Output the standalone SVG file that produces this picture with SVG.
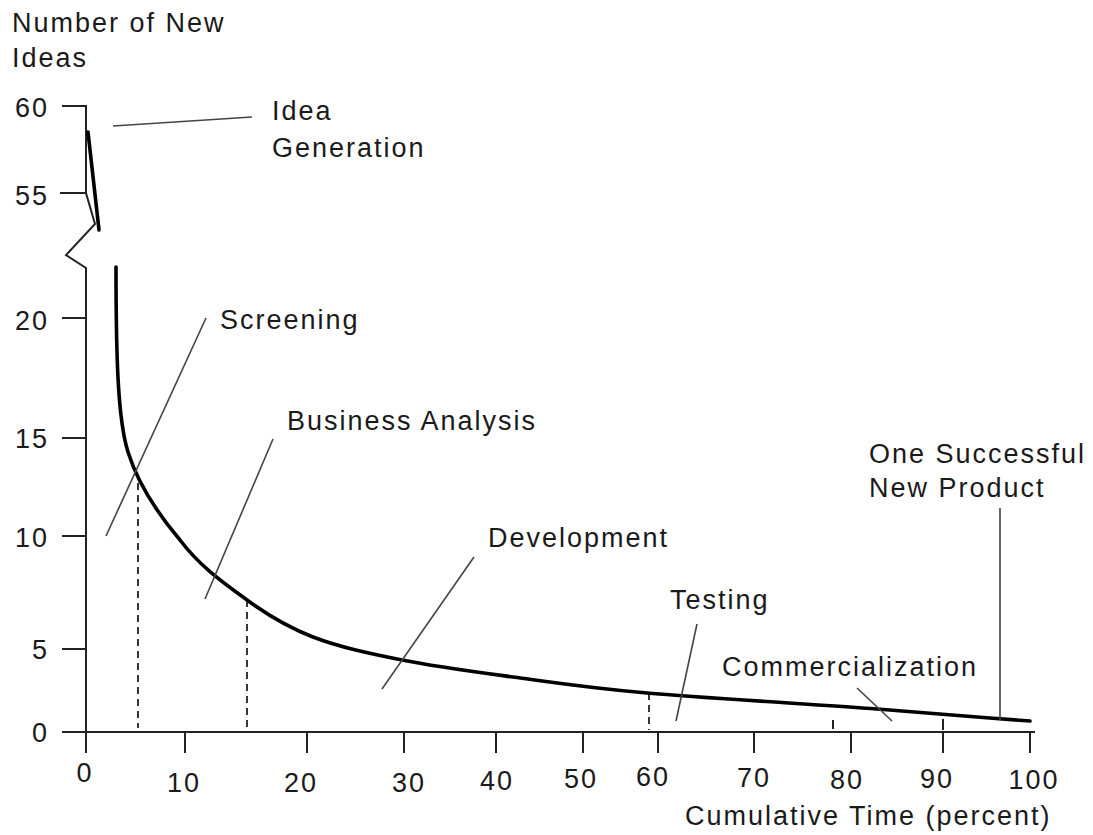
<svg xmlns="http://www.w3.org/2000/svg" width="1093" height="835" viewBox="0 0 1093 835">
<style>
text{font-family:"Liberation Sans",Arial,sans-serif;font-size:27px;fill:#1a1a1a;letter-spacing:2px}
.ax{fill:none;stroke:#222;stroke-width:2}
.ld{fill:none;stroke:#444;stroke-width:1.6}
.dash{fill:none;stroke:#222;stroke-width:1.8;stroke-dasharray:7,5}
.curve{fill:none;stroke:#000;stroke-width:3.6;stroke-linecap:round}
.yl{text-anchor:end}
.xl{text-anchor:middle}
</style>
<rect width="1093" height="835" fill="#fff"/>
<g id="axes">
<path class="ax" d="M62,106 H86 V193 L95,224 L66,255 L86,268 V732"/>
<path class="ax" d="M60,193 H86 M62,318 H86 M62,438 H86 M62,536 H86 M62,649 H86"/>
<path class="ax" d="M62,732 H1035"/>
<path class="ax" d="M86,732 V753 M185,732 V753 M307,732 V753 M404,732 V753 M496,732 V753 M583,732 V753 M658,732 V753 M754,732 V753 M851,732 V753 M943,732 V753 M1030,732 V753"/>
<path class="ax" d="M833,720 V729 M943,719 V730"/>
</g>
<g id="y-labels">
<text class="yl" x="49" y="117">60</text>
<text class="yl" x="49" y="205">55</text>
<text class="yl" x="49" y="330">20</text>
<text class="yl" x="49" y="448">15</text>
<text class="yl" x="49" y="547">10</text>
<text class="yl" x="49" y="659">5</text>
<text class="yl" x="49" y="742">0</text>
</g>
<g id="x-labels">
<text class="xl" x="85" y="782">0</text>
<text class="xl" x="184" y="792">10</text>
<text class="xl" x="301" y="792">20</text>
<text class="xl" x="409" y="792">30</text>
<text class="xl" x="497" y="790">40</text>
<text class="xl" x="581" y="788">50</text>
<text class="xl" x="653" y="786">60</text>
<text class="xl" x="754" y="787">70</text>
<text class="xl" x="847" y="789">80</text>
<text class="xl" x="937" y="788">90</text>
<text class="xl" x="1034" y="789">100</text>
</g>
<g id="axis-titles">
<text x="12" y="32">Number of New</text>
<text x="12" y="67">Ideas</text>
<text x="685" y="825">Cumulative Time (percent)</text>
</g>
<g id="dashed">
<path class="dash" d="M138,483 V728 M247,600 V730 M649,693 V730"/>
</g>
<g id="curve">
<path class="curve" d="M88,132 L99,230"/>
<path class="curve" d="M116,267 C116,360 118,420 128,452 C138,484 158,514 180,540 C200,566.7 224.8,583.8 247,600 C269.2,616.2 287.2,627 313,637 C338.8,647 368.7,653.3 402,660 C435.3,666.7 472.2,671.5 513,677 C553.8,682.5 586.3,687.7 647,693 C707.7,698.3 813.2,704.3 877,709 C940.8,713.7 980,717.5 1030,721"/>
</g>
<g id="connectors">
<path class="ld" d="M113,126 L252,117"/>
<path class="ld" d="M106,536 L206,318"/>
<path class="ld" d="M205,599 L273,439"/>
<path class="ld" d="M382,689 L474,557"/>
<path class="ld" d="M676,721 L697,624"/>
<path class="ld" d="M857,688 L892,721"/>
<path class="ld" d="M1000,508 V720"/>
</g>
<g id="idea-generation"><text x="272" y="120">Idea</text><text x="272" y="157">Generation</text></g>
<g id="screening"><text x="220" y="329">Screening</text></g>
<g id="business-analysis"><text x="287" y="430">Business Analysis</text></g>
<g id="development"><text x="488" y="547">Development</text></g>
<g id="testing"><text x="670" y="609">Testing</text></g>
<g id="commercialization"><text x="722" y="676">Commercialization</text></g>
<g id="one-successful"><text x="869" y="463">One Successful</text><text x="869" y="497">New Product</text></g>
</svg>
